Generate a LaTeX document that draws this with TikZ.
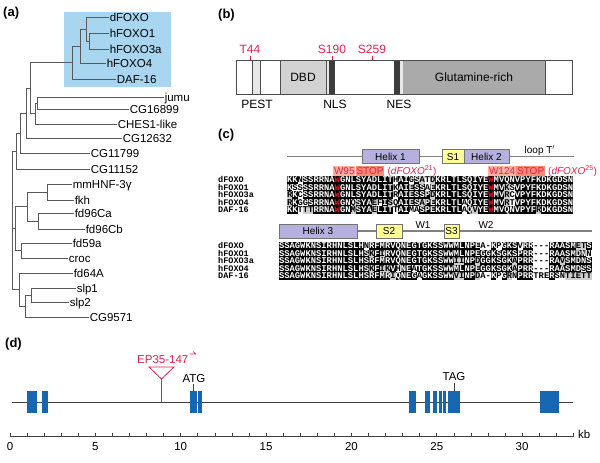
\documentclass[tikz,border=0pt]{standalone}
\usepackage{fontspec}
\setmainfont{Liberation Sans}
\setmonofont{Liberation Mono}
\definecolor{redc}{RGB}{228,32,80}
\definecolor{foxoblue}{RGB}{168,213,240}
\definecolor{helixfill}{RGB}{182,176,222}
\definecolor{sfill}{RGB}{255,255,150}
\definecolor{salA}{RGB}{250,178,160}
\definecolor{salB}{RGB}{244,140,115}
\definecolor{exonc}{RGB}{22,102,178}
\definecolor{alnred}{RGB}{225,20,40}
\definecolor{alngreybg}{RGB}{205,205,205}
\definecolor{pestg}{RGB}{232,232,232}
\definecolor{dbdg}{RGB}{210,210,210}
\definecolor{glng}{RGB}{170,170,170}
\definecolor{darkb}{RGB}{60,60,60}
% alignment machinery
\newcommand\alnrow[4]{\def\alnid{#1}\def\alnxo{#2}\def\alny{#3}\gdef\alncol{0}\gdef\alngrey{0}\alnparse#4\relax}
\def\alnparse#1{\ifx#1\relax\else\alnhandle{#1}\expandafter\alnparse\fi}
\def\alnhandle#1{%
  \ifx#1+\gdef\alngrey{1}\else
    \pgfmathsetmacro\alnx{\alnxo+(\alncol+0.5)*5.3}%
    \ifx#1-\node[alnc] (\alnid-\alncol) at (\alnx,\alny) {-};%
    \else\ifx#1*%
      \fill[black] (\alnx-2.72,\alny-3.65) rectangle (\alnx+2.72,\alny+3.65);%
      \node[alnc,text=alnred] (\alnid-\alncol) at (\alnx,\alny) {W};%
    \else\ifnum`#1=\lccode`#1\relax
      \ifnum\alngrey=1\relax\fill[alngreybg] (\alnx-2.72,\alny-3.65) rectangle (\alnx+2.72,\alny+3.65);\fi
      \node[alnc] (\alnid-\alncol) at (\alnx,\alny) {\uppercase{#1}};%
    \else
      \fill[black] (\alnx-2.72,\alny-3.65) rectangle (\alnx+2.72,\alny+3.65);%
      \node[alnc,text=white] (\alnid-\alncol) at (\alnx,\alny) {#1};%
    \fi\fi\fi
    \xdef\alncol{\the\numexpr\alncol+1\relax}\gdef\alngrey{0}%
  \fi}
\begin{document}
\begin{tikzpicture}[x=1pt,y=-1pt,
  tree/.style={draw=black!65, line width=0.8pt},
  leaf/.style={anchor=west, inner sep=0.6pt, font=\fontsize{11.5}{12}\selectfont, text height=8.2pt, text depth=0pt},
  plabel/.style={anchor=west, inner sep=0pt, font=\bfseries\fontsize{13}{14}\selectfont},
  blab/.style={inner sep=0pt, font=\fontsize{12}{13}\selectfont, text height=8.6pt, text depth=0pt},
  clab/.style={inner sep=0pt, font=\fontsize{10}{11}\selectfont, text height=7.2pt, text depth=0pt},
  dlab/.style={inner sep=0pt, font=\fontsize{11.5}{12}\selectfont, text height=8.2pt, text depth=0pt},
  ssbox/.style={draw=black!55, line width=0.6pt, inner sep=0pt, minimum height=14pt, font=\fontsize{10}{11}\selectfont, text height=7.2pt, text depth=0pt},
  helixbox/.style={ssbox, fill=helixfill},
  sbox/.style={ssbox, fill=sfill},
  ssline/.style={draw=black!50, line width=1.3pt},
  alnc/.style={inner sep=0pt, font=\ttfamily\bfseries\fontsize{8.8}{9}\selectfont, text height=5.6pt, text depth=0pt},
  alnname/.style={anchor=west, inner sep=0pt, font=\ttfamily\bfseries\fontsize{8.5}{8.5}\selectfont, text height=5.2pt, text depth=0pt},
  mut/.style={anchor=west, inner sep=0.8pt, font=\fontsize{10}{11}\selectfont, text height=7.2pt, text depth=0.6pt, text=redc},
  barline/.style={draw=black!70, line width=0.8pt},
  exon/.style={fill=exonc},
  gline/.style={draw=black!75, line width=0.8pt}
]
\useasboundingbox (0,0) rectangle (600,463);

% ================= (a) =================
\node[plabel] (pa) at (3,13) {(a)};
\fill[foxoblue] (64,12) rectangle (171,87);
\node[leaf] (dfoxo) at (109,17) {dFOXO};
\node[leaf] (hfoxo1) at (109,33) {hFOXO1};
\node[leaf] (hfoxo3a) at (109,49) {hFOXO3a};
\node[leaf] (hfoxo4) at (106,63) {hFOXO4};
\node[leaf] (daf) at (116,79) {DAF-16};
\node[leaf] (jumu) at (164,97) {jumu};
\node[leaf] (cg16899) at (129,109) {CG16899};
\node[leaf] (ches) at (117,124) {CHES1-like};
\node[leaf] (cg12632) at (122,138) {CG12632};
\node[leaf] (cg11799) at (90,153) {CG11799};
\node[leaf] (cg11152) at (90,169) {CG11152};
\node[leaf] (mmhnf) at (72,184) {mmHNF-3γ};
\node[leaf] (fkh) at (74,200) {fkh};
\node[leaf] (fdca) at (74,213) {fd96Ca};
\node[leaf] (fdcb) at (85,229) {fd96Cb};
\node[leaf] (fd59a) at (72,243) {fd59a};
\node[leaf] (croc) at (68,258) {croc};
\node[leaf] (fd64a) at (73,273) {fd64A};
\node[leaf] (slp1) at (76,288) {slp1};
\node[leaf] (slp2) at (69,302) {slp2};
\node[leaf] (cg9571) at (89,317) {CG9571};

\draw[tree] (hfoxo1.west) -- (89,33) -- (89,49) -- (hfoxo3a.west);
\draw[tree] (dfoxo.west) -- (86,17) -- (86,41) -- (89,41);
\draw[tree] (86,29) -- (80,29) -- (80,63) -- (hfoxo4.west);
\draw[tree] (80,46) -- (72,46) -- (72,79) -- (daf.west);
\draw[tree] (jumu.west) -- (37,97) -- (37,109) -- (cg16899.west);
\draw[tree] (37,103) -- (35,103) -- (35,124) -- (ches.west);
\draw[tree] (72,62.5) -- (30,62.5) -- (30,113.5) -- (35,113.5);
\draw[tree] (30,88) -- (26,88) -- (26,138) -- (cg12632.west);
\draw[tree] (26,113) -- (20,113) -- (20,153) -- (cg11799.west);
\draw[tree] (20,133) -- (16,133) -- (16,169) -- (cg11152.west);
\draw[tree] (mmhnf.west) -- (47,184) -- (47,200) -- (fkh.west);
\draw[tree] (fdca.west) -- (38,213) -- (38,229) -- (fdcb.west);
\draw[tree] (47,192) -- (27,192) -- (27,221) -- (38,221);
\draw[tree] (fd59a.west) -- (21,243) -- (21,258) -- (croc.west);
\draw[tree] (27,206.5) -- (15,206.5) -- (15,250.5) -- (21,250.5);
\draw[tree] (slp1.west) -- (31,288) -- (31,302) -- (slp2.west);
\draw[tree] (31,295) -- (25,295) -- (25,317) -- (cg9571.west);
\draw[tree] (fd64a.west) -- (19,273) -- (19,306) -- (25,306);
\draw[tree] (16,151) -- (12,151) -- (12,289.5) -- (19,289.5);
\draw[tree] (12,228.5) -- (15,228.5);

% ================= (b) =================
\node[plabel] (pb) at (218,15) {(b)};
\fill[white] (236,60) rectangle (572,94);
\fill[pestg] (252,60) rectangle (260,94);
\fill[dbdg] (280,60) rectangle (326,94);
\fill[pestg] (326,60) rectangle (329,94);
\fill[darkb] (329,60) rectangle (335,94);
\fill[darkb] (394,60) rectangle (400,94);
\fill[pestg] (400,60) rectangle (403,94);
\fill[glng] (403,60) rectangle (545,94);
\foreach \xx in {252,260,280,326,545} \draw[barline, line width=0.6pt] (\xx,60) -- (\xx,94);
\draw[barline] (236,60) rectangle (572,94);
\node[blab] (dbd) at (303,77) {DBD};
\node[blab] (gln) at (474,77) {Glutamine-rich};
\node[blab] (pest) at (257,104) {PEST};
\node[blab] (nls) at (335,104) {NLS};
\node[blab] (nes) at (399,104) {NES};
\node[blab, text=redc] (t44) at (250,49) {T44};
\node[blab, text=redc] (s190) at (332,49) {S190};
\node[blab, text=redc] (s259) at (372,49) {S259};
\draw[redc, line width=0.7pt] (250,55.5) -- (250,60);
\draw[redc, line width=0.7pt] (332,55.5) -- (332,60);
\draw[redc, line width=0.7pt] (372,55.5) -- (372,60);

% ================= (c) =================
\node[plabel] (pc) at (218,135) {(c)};
\draw[ssline] (287,156.5) -- (574,156.5);
\node[helixbox, minimum width=57pt] (h1) at (390.5,156.5) {Helix 1};
\node[sbox, minimum width=22pt] (s1) at (453,156.5) {S1};
\node[helixbox, minimum width=45pt] (h2) at (486.5,156.5) {Helix 2};
\node[clab] (loopt) at (540,150) {loop T$'$};

\node[mut, fill=salA] (w95) at (333,171) {W95};
\node[mut, fill=salB] (stop1) at (w95.east) {STOP};
\node[mut] (d21) at ([xshift=2pt]stop1.east) {(\textit{dFOXO}\textsuperscript{21})};
\node[mut, fill=salA] (w124) at (488,171) {W124};
\node[mut, fill=salB] (stop2) at (w124.east) {STOP};
\node[mut] (d25) at ([xshift=2pt]stop2.east) {(\textit{dFOXO}\textsuperscript{25})};

\node[alnname] (n1a) at (218,180) {dFOXO};
\node[alnname] (n1b) at (218,187.5) {hFOXO1};
\node[alnname] (n1c) at (218,195) {hFOXO3a};
\node[alnname] (n1d) at (218,202.5) {hFOXO4};
\node[alnname] (n1e) at (218,210) {DAF-16};
\alnrow{a1}{287}{180}{KKnSSRRNA*GNLSYADLIThAIgS+at+dKRLTLSQIYE*MVQNVPYFKDKGDSN}
\alnrow{a2}{287}{187.5}{KssSSRRNA*GNLSYADLITkAIESSaEKRLTLSQIYE*MV+ksVPYFKDKGDSN}
\alnrow{a3}{287}{195}{+rKcSSRRNA*GNLSYADLITrAIESSP+dKRLTLSQIYE*MV+rcVPYFKDKGDSN}
\alnrow{a4}{287}{202.5}{+rKggSRRNA*GNqSYA+efI+sqAIES+aPEKRLTLaQIYE*MV+rtVPYFKDKGDSN}
\alnrow{a5}{287}{210}{KKt+t+tRRNA*GN+mSYA+eLITtAImaSPEKRLTLaQ+vYE*MVQNVPYF+rDKGDSN}

\draw[ssline] (357,231) -- (592,231);
\node[helixbox, minimum width=78pt] (h3) at (318,231) {Helix 3};
\node[sbox, minimum width=26pt] (s2) at (389,231) {S2};
\node[sbox, minimum width=15pt] (s3) at (451.5,231) {S3};
\node[clab] (w1) at (423,225) {W1};
\node[clab] (w2) at (486,225) {W2};

\node[alnname] (n2a) at (218,246) {dFOXO};
\node[alnname] (n2b) at (218,253.5) {hFOXO1};
\node[alnname] (n2c) at (218,261) {hFOXO3a};
\node[alnname] (n2d) at (218,268.5) {hFOXO4};
\node[alnname] (n2e) at (218,276) {DAF-16};
\alnrow{b1}{279}{246}{SSAGWKNSIRHNLSLHnRFMRVQNEGTGKSSWWMLNPEa-KpGKSvRR---RAASM+e+tS}
\alnrow{b2}{279}{253.5}{SSAGWKNSIRHNLSLHS+kF+iRVQNEGTGKSSWWMLNPEGGKSGKSPRR---RAASMDNn}
\alnrow{b3}{279}{261}{SSAGWKNSIRHNLSLHSRFMRVQNEGTGKSSWW+i+iNP+dGGKSGK+aPRR---RA+vSMDNS}
\alnrow{b4}{279}{268.5}{SSAGWKNSIRHNLSLHS+kF+i+kVhNEaTGKSSWWMLNPEGGKSGK+aPRR---RAASMDsS}
\alnrow{b5}{279}{276}{SSAGWKNSIRHNLSLHSRFMR+iQNEGaGKSSWW+v+iNP+da-KpG+rnPRRtreRsn+t+i+e+t+t}

% ================= (d) =================
\node[plabel] (pd) at (5,344) {(d)};
\draw[gline] (12,402) -- (573,402);
\foreach \a/\b in {27/37,42/48,190/197,198/202,409/416,425/430,433/437,439/441.5,443/445.5,448/460,540/559}
  \fill[exon] (\a,391) rectangle (\b,413);
\node[dlab] (atg) at (194,378) {ATG};
\node[dlab] (tag) at (454,376) {TAG};
\draw[black!75, line width=0.7pt] (193,384) -- (193,391);
\draw[black!75, line width=0.7pt] (454,383) -- (454,391);
\node[dlab, anchor=west, text=redc] (ep) at (137,359) {EP35-147};
\draw[redc, line width=0.7pt] ([xshift=1pt,yshift=5pt]ep.east) -- ++(6,0) -- ++(-2.5,-2.5);
\coordinate (apex) at (161.5,379);
\draw[redc, line width=0.8pt, fill=white] (149,367) -- (174,367) -- (apex) -- cycle;
\draw[redc, line width=0.8pt] (apex) -- (161.5,402);

\draw[gline] (10,436) -- (574,436);
\foreach \k in {0,...,33} \draw[gline, line width=0.6pt] ({10+\k*17.07},436) -- ++(0,-3);
\foreach \k in {0,5,10,15,20,25,30} \node[dlab] (ax\k) at ({10+\k*17.07},446) {\k};
\node[dlab, anchor=west] (kb) at (578,434) {kb};
\end{tikzpicture}
\end{document}
